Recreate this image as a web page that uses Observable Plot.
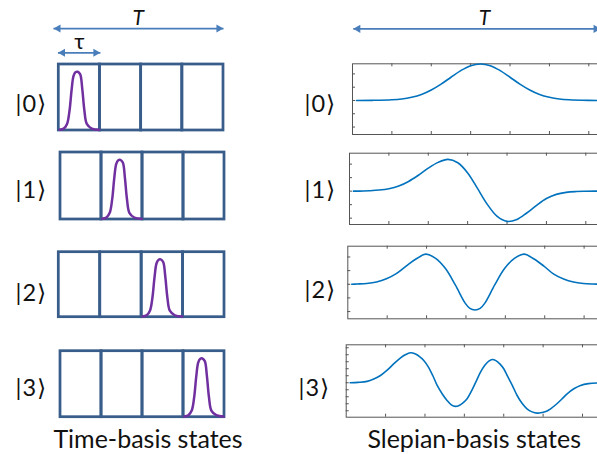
<!DOCTYPE html>
<html>
<head>
<meta charset="utf-8">
<script src="https://cdn.jsdelivr.net/npm/d3@7"></script>
<script src="https://cdn.jsdelivr.net/npm/@observablehq/plot@0.6"></script>
<style>
  body { margin: 0; background: #fff; }
  #fig { position: relative; width: 597px; height: 454px; overflow: hidden; background: #fff; }
  #fig svg { position: absolute; left: 0; top: 0; }
</style>
</head>
<body>
<div id="fig"></div>
<script>
// ---------------- data ----------------
const ketLabels = ["|0⟩", "|1⟩", "|2⟩", "|3⟩"];
const captions = ["Time-basis states", "Slepian-basis states"];
const periodLabel = "T";
const slotLabel = "τ";

// time slots of width τ in the time-basis boxes
const cells = [0, 1, 2, 3];
// slot occupied by the pulse of each time-basis state
const pulseCell = [0, 1, 2, 3];
// pulse shape inside one slot (x in slot units, y relative to box height)
const pulseX = [0.02, 0.12, 0.20, 0.26, 0.31, 0.36, 0.41, 0.46, 0.52, 0.57, 0.62, 0.68, 0.80, 0.98];
const pulseY = [0.01, 0.03, 0.10, 0.30, 0.61, 0.83, 0.885, 0.89, 0.85, 0.63, 0.31, 0.10, 0.03, 0.01];

// Slepian-basis states (x in tick units along T, y in tick units)
const slep0X = [0.1, 0.5, 1.0, 1.25, 1.5, 1.75, 2.0, 2.25, 2.5, 2.75, 3.0, 3.25, 3.5, 3.75, 4.0, 4.25, 4.5, 4.75, 5.0, 5.25, 5.5, 6.0, 6.5];
const slep0Y = [0, 0.01, 0.05, 0.11, 0.24, 0.45, 0.79, 1.23, 1.75, 2.25, 2.62, 2.75, 2.62, 2.25, 1.75, 1.23, 0.79, 0.45, 0.24, 0.11, 0.05, 0.01, 0];

const slep1X = [0.1, 0.25, 0.5, 0.75, 1.0, 1.25, 1.5, 1.75, 2.0, 2.25, 2.5, 2.75, 3.0, 3.25, 3.5, 3.75, 4.0, 4.25, 4.5, 4.75, 5.0, 5.25, 5.5, 5.75, 6.0, 6.25, 6.5];
const slep1Y = [0, 0, 0.03, 0.08, 0.18, 0.38, 0.72, 1.18, 1.70, 2.13, 2.35, 2.10, 1.35, 0.20, -0.98, -1.87, -2.24, -2.10, -1.62, -1.05, -0.55, -0.24, -0.09, -0.03, -0.01, 0, 0];

const slep2X = [0.1, 0.23, 0.48, 0.73, 0.98, 1.23, 1.48, 1.73, 1.98, 2.23, 2.48, 2.73, 2.98, 3.10, 3.23, 3.36, 3.48, 3.73, 3.98, 4.23, 4.48, 4.73, 4.98, 5.23, 5.48, 5.73, 5.98, 6.23, 6.5];
const slep2Y = [0, 0.02, 0.06, 0.17, 0.40, 0.78, 1.33, 1.85, 2.21, 1.90, 1.15, -0.05, -1.38, -1.77, -1.88, -1.77, -1.38, -0.05, 1.15, 1.90, 2.21, 1.85, 1.33, 0.74, 0.38, 0.16, 0.06, 0.02, 0];

const slep3X = [0.1, 0.3, 0.53, 0.7, 0.87, 1.04, 1.21, 1.38, 1.5, 1.63, 1.76, 1.87, 1.97, 2.08, 2.2, 2.31, 2.44, 2.56, 2.67, 2.77, 2.88, 2.98, 3.07, 3.18, 3.3, 3.41, 3.52, 3.62, 3.71, 3.8, 3.9, 4.0, 4.1, 4.22, 4.34, 4.46, 4.59, 4.72, 4.85, 4.98, 5.1, 5.19, 5.35, 5.5, 5.61, 5.78, 5.95, 6.15, 6.5];
const slep3Y = [0, 0.03, 0.10, 0.27, 0.52, 0.90, 1.36, 1.78, 2.0, 2.14, 2.05, 1.85, 1.59, 1.15, 0.5, -0.19, -0.80, -1.26, -1.58, -1.69, -1.6, -1.4, -1.14, -0.6, 0.1, 0.76, 1.25, 1.55, 1.66, 1.58, 1.35, 1.00, 0.45, -0.2, -0.91, -1.45, -1.86, -2.08, -2.17, -2.12, -2.02, -1.86, -1.5, -1.1, -0.79, -0.43, -0.19, -0.06, 0];

const slepX = [slep0X, slep1X, slep2X, slep3X];
const slepY = [slep0Y, slep1Y, slep2Y, slep3Y];

// axis tick positions of the Slepian panels (no tick labels)
const xTicksR = [1, 2, 3, 4, 5, 6];
const yTicksR = [
  [-2, -1, 0, 1, 2],
  [-2, -1, 0, 1, 2],
  [-2, -1, 0, 1, 2],
  [-2, -1.5, -1, -0.5, 0, 0.5, 1, 1.5, 2, 2.5]
];

// ---------------- layout & style ----------------
const W = 620, H = 454;
const FONT = "Lato, 'Open Sans', 'DejaVu Sans', sans-serif";
const boxColor = "#385D8A", pulseColor = "#7030A0", arrowColor = "#4A7EBB";
const curveColor = "#0072BD", axisColor = "#555555", textColor = "#111";

const leftFrames = [
  {left: 58.3, right: 223, top: 64, bottom: 130},
  {left: 60, right: 224, top: 152, bottom: 219},
  {left: 58.3, right: 224, top: 251.7, bottom: 316.7},
  {left: 60, right: 224, top: 350.7, bottom: 416.7}
];
const rightFrames = [
  {left: 352, right: 608, top: 63.3, bottom: 134},
  {left: 349, right: 605, top: 152.7, bottom: 224},
  {left: 347.3, right: 603.3, top: 245.7, bottom: 318.3},
  {left: 345.7, right: 601.7, top: 344.3, bottom: 416.7}
];
const rightYDomains = [[-2.56, 2.76], [-2.47, 2.81], [-2.53, 2.79], [-2.46, 2.71]];
const leftKetOffsets = [{dx: -43.3, dy: 14.7}, {dx: -45, dy: 11.8}, {dx: -43.3, dy: 16.5}, {dx: -45, dy: 11.3}];
const rightKetOffsets = [{dx: -48, dy: 13}, {dx: -45, dy: 8.9}, {dx: -43.3, dy: 15.5}, {dx: -47.7, dy: 14.5}];
const ketSize = 23.5;

const fig = document.getElementById("fig");

function panel(f, xDomain, yDomain, marks) {
  const svg = Plot.plot({
    width: W, height: H,
    marginLeft: f.left, marginRight: W - f.right,
    marginTop: f.top, marginBottom: H - f.bottom,
    x: {domain: xDomain, axis: null},
    y: {domain: yDomain, axis: null},
    style: {background: "transparent", maxWidth: "none", overflow: "visible", fontFamily: FONT},
    marks
  });
  svg.style.background = "transparent";
  svg.style.maxWidth = "none";
  svg.style.position = "absolute";
  svg.style.left = "0px";
  svg.style.top = "0px";
  fig.appendChild(svg);
}

function doubleArrow(spec) {
  return [
    Plot.link(spec, {x1: "x1", x2: "x2", y1: "y", y2: "y", stroke: arrowColor, strokeWidth: 1.75}),
    Plot.dot(spec, {x: "x1", y: "y", symbol: "triangle", rotate: -90, r: 3, fill: arrowColor, stroke: "none", dx: 4.7}),
    Plot.dot(spec, {x: "x2", y: "y", symbol: "triangle", rotate: 90, r: 3, fill: arrowColor, stroke: "none", dx: -4.7})
  ];
}

function ketText(label, off) {
  return Plot.text([label], {text: d => d, frameAnchor: "left", textAnchor: "start", lineAnchor: "bottom",
    dx: off.dx, dy: off.dy, fontSize: ketSize, fill: textColor});
}

// ---------------- time-basis panels ----------------
leftFrames.forEach((f, k) => {
  const pulse = pulseX.map((px, i) => ({x: pulseCell[k] + px, y: pulseY[i]}));
  const marks = [
    Plot.rect(cells, {x1: d => d, x2: d => d + 1, y1: 0, y2: 1, fill: "none", stroke: boxColor, strokeWidth: 2.75}),
    Plot.line(pulse, {x: "x", y: "y", stroke: pulseColor, strokeWidth: 2.5, curve: "catmull-rom"}),
    ketText(ketLabels[k], leftKetOffsets[k])
  ];
  if (k === 0) {
    marks.push(...doubleArrow([{x1: -0.13, x2: 4.0, y: 1.545}, {x1: -0.02, x2: 1.01, y: 1.177}]));
    marks.push(Plot.text([periodLabel], {text: d => d, x: 1.93, y: 1.606, lineAnchor: "bottom", fontSize: 21, fontStyle: "italic", fill: textColor}));
    marks.push(Plot.text([slotLabel], {text: d => d, x: 0.50, y: 1.238, lineAnchor: "bottom", fontSize: 22, fill: textColor}));
  }
  if (k === 3) {
    marks.push(Plot.text([captions[0]], {text: d => d, frameAnchor: "bottom", textAnchor: "middle", lineAnchor: "bottom",
      dx: 5.5, dy: 31, fontSize: 25, fill: textColor}));
  }
  panel(f, [0, 4], [0, 1], marks);
});

// ---------------- Slepian-basis panels ----------------
rightFrames.forEach((f, k) => {
  const fw = f.right - f.left, fh = f.bottom - f.top;
  const curve = slepX[k].map((x, i) => ({x, y: slepY[k][i]}));
  const marks = [
    Plot.frame({stroke: axisColor, strokeWidth: 1}),
    Plot.ruleX(xTicksR, {stroke: axisColor, strokeWidth: 1, insetBottom: fh - 3}),
    Plot.ruleX(xTicksR, {stroke: axisColor, strokeWidth: 1, insetTop: fh - 3}),
    Plot.ruleY(yTicksR[k], {stroke: axisColor, strokeWidth: 1, insetRight: fw - 3}),
    Plot.ruleY(yTicksR[k], {stroke: axisColor, strokeWidth: 1, insetLeft: fw - 3}),
    Plot.line(curve, {x: "x", y: "y", stroke: curveColor, strokeWidth: 1.6, curve: "catmull-rom"}),
    ketText(ketLabels[k], rightKetOffsets[k])
  ];
  if (k === 0) {
    marks.push(...doubleArrow([{x1: 0.02, x2: 6.3, y: 5.39}]));
    marks.push(Plot.text([periodLabel], {text: d => d, x: 3.35, y: 5.71, lineAnchor: "bottom", fontSize: 21, fontStyle: "italic", fill: textColor}));
  }
  if (k === 3) {
    marks.push(Plot.text([captions[1]], {text: d => d, frameAnchor: "bottom", textAnchor: "middle", lineAnchor: "bottom",
      dx: 0, dy: 31, fontSize: 25, fill: textColor}));
  }
  panel(f, [0, 6.5], rightYDomains[k], marks);
});

// wider spacing inside the kets, as in the reference typesetting
fig.querySelectorAll("text").forEach(t => {
  if (ketLabels.includes(t.textContent)) t.style.letterSpacing = "1px";
});
</script>
</body>
</html>
